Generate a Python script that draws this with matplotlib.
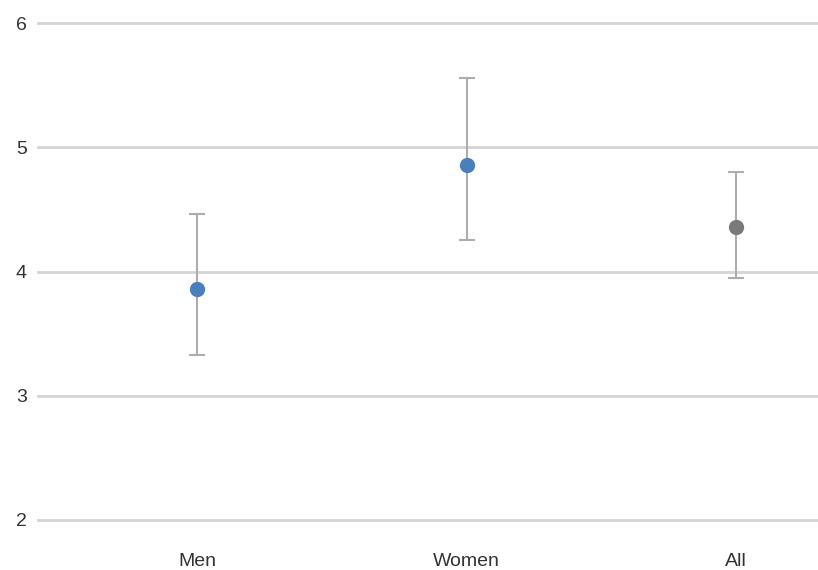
import matplotlib
matplotlib.use("Agg")
import matplotlib.pyplot as plt

categories = ["Men", "Women", "All"]
means = [3.86, 4.86, 4.36]
upper = [4.46, 5.56, 4.80]
lower = [3.33, 4.25, 3.95]
colors = ["#4a7fbd", "#4a7fbd", "#7a7a7a"]
yticks = [2, 3, 4, 5, 6]

plt.rcParams['font.family'] = ['Liberation Sans', 'DejaVu Sans']

fig = plt.figure(figsize=(8.18, 5.70), dpi=100)
W, H = 818, 570
ax = fig.add_axes([38 / W, 1 - 520 / H, (818 - 38) / W, (520 - 23) / H])

for y in yticks:
    ax.axhline(y, color="#d4d4d4", lw=2, zorder=0, clip_on=False)

x = list(range(len(categories)))
for i in x:
    ax.errorbar(i, means[i],
                yerr=[[means[i] - lower[i]], [upper[i] - means[i]]],
                fmt="none", ecolor="#adadad", elinewidth=1.5,
                capsize=5.5, capthick=1.5, zorder=2)
    ax.plot(i, means[i], "o", color=colors[i], markersize=11,
            markeredgewidth=0, zorder=3)

ax.set_xlim(-(197 - 38) / 269, 2 + (818 - 736) / 269)
ax.set_ylim(2, 6)
ax.set_yticks(yticks)
ax.set_yticklabels([str(v) for v in yticks], fontsize=14, color="#333333")
ax.set_xticks(x)
ax.set_xticklabels(categories, fontsize=14, color="#333333")
ax.tick_params(axis="y", length=0, pad=8)
ax.tick_params(axis="x", length=0, pad=24)
for s in ax.spines.values():
    s.set_visible(False)
ax.set_facecolor("white")
fig.patch.set_facecolor("white")

fig.savefig("out.png", dpi=100)
